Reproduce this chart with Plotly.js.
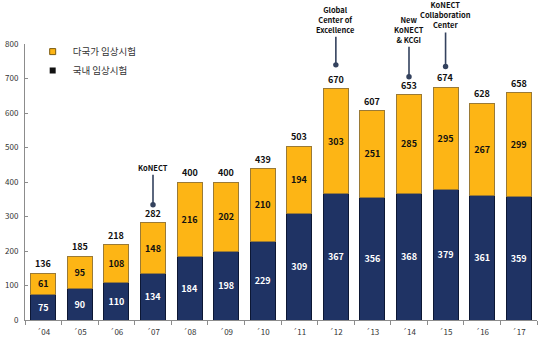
<!DOCTYPE html>
<html><head><meta charset="utf-8">
<script src="https://cdn.plot.ly/plotly-3.0.1.min.js"></script>
<style>html,body{margin:0;padding:0;background:#fff;}#chart{width:540px;height:341px;}</style>
</head><body><div id="chart"></div>
<script>
const years = ['´04','´05','´06','´07','´08','´09','´10','´11','´12','´13','´14','´15','´16','´17'];
const domestic = [75,90,110,134,184,198,229,309,367,356,368,379,361,359];
const multinational = [61,95,108,148,216,202,210,194,303,251,285,295,267,299];
const totals = [136,185,218,282,400,400,439,503,670,607,653,674,628,658];
const seriesNames = ['국내 임상시험','다국가 임상시험'];
const eventYears = ['´07','´12','´14','´15'];
const eventLabels = ['KoNECT','Global<br>Center of<br>Excellence','New<br>KoNECT<br>& KCGI','KoNECT<br>Collaboration<br>Center'];

const NAVY = '#1F3364', ORANGE = '#FDB515';
const FONT = 'Noto Sans CJK KR, Noto Sans, sans-serif';

const traces = [
  {type:'bar', x:years, y:domestic, name:seriesNames[0], showlegend:false,
   marker:{color:NAVY, line:{color:'#0c1734', width:1}},
   text:domestic.map(String), textposition:'inside', insidetextanchor:'middle', textangle:0,
   constraintext:'none', textfont:{color:'#ffffff', size:9, family:FONT, weight:'bold'}, hoverinfo:'skip'},
  {type:'bar', x:years, y:multinational, name:seriesNames[1], showlegend:false,
   marker:{color:ORANGE, line:{color:'#9a7a36', width:1}},
   text:multinational.map(String), textposition:'inside', insidetextanchor:'middle', textangle:0,
   constraintext:'none', textfont:{color:'#111111', size:9, family:FONT, weight:'bold'}, hoverinfo:'skip'},
  {type:'scatter', mode:'markers', x:[null], y:[null], name:seriesNames[1],
   marker:{symbol:'square', size:6, color:ORANGE, line:{color:'#7a5a10', width:1}}},
  {type:'scatter', mode:'markers', x:[null], y:[null], name:seriesNames[0],
   marker:{symbol:'square', size:6, color:'#111111', line:{color:'#000', width:0}}}
];

const annotations = [];
years.forEach((yr,i)=>{
  annotations.push({x:yr, y:totals[i], text:String(totals[i]), showarrow:false,
    yanchor:'bottom', yshift:1, font:{size:9, color:'#111', family:FONT, weight:'bold'}});
});
const evShift = [18, 24, 18, 21];
const evAy = [-30, -28, -30, -34];
eventYears.forEach((yr,k)=>{
  const i = years.indexOf(yr);
  annotations.push({x:yr, y:totals[i], text:eventLabels[k], showarrow:true,
    ax:0, ay:evAy[k], yshift:evShift[k], yanchor:'bottom',
    arrowhead:6, arrowsize:0.85, arrowwidth:1.6, arrowcolor:'#34425e', standoff:0,
    font:{size:7.5, color:'#111', family:FONT, weight:'bold'}});
});

const layout = {
  width:540, height:341,
  margin:{l:25, r:3, t:44, b:21},
  paper_bgcolor:'#fff', plot_bgcolor:'#fff',
  barmode:'stack', bargap:0.32,
  font:{family:FONT, color:'#333'},
  showlegend:true,
  legend:{x:0.015, y:1.025, xanchor:'left', yanchor:'top', bgcolor:'rgba(0,0,0,0)',
    font:{size:9.5, color:'#333', family:FONT}, traceorder:'normal', tracegroupgap:0},
  xaxis:{type:'category', showline:true, linecolor:'#8c8c8c', linewidth:1,
    ticks:'outside', tickson:'boundaries', ticklen:4, tickcolor:'#8c8c8c',
    ticklabelstandoff:4,
    showgrid:false, zeroline:false, tickfont:{size:8, color:'#333', family:FONT}, fixedrange:true},
  yaxis:{range:[0,800], dtick:100, showline:true, linecolor:'#8c8c8c', linewidth:1,
    ticks:'inside', ticklen:3, tickcolor:'#8c8c8c', showgrid:false, zeroline:false,
    ticklabelstandoff:4,
    tickfont:{size:8, color:'#333', family:FONT}, fixedrange:true},
  annotations:annotations
};
Plotly.newPlot('chart', traces, layout, {displayModeBar:false, staticPlot:true});
</script></body></html>
